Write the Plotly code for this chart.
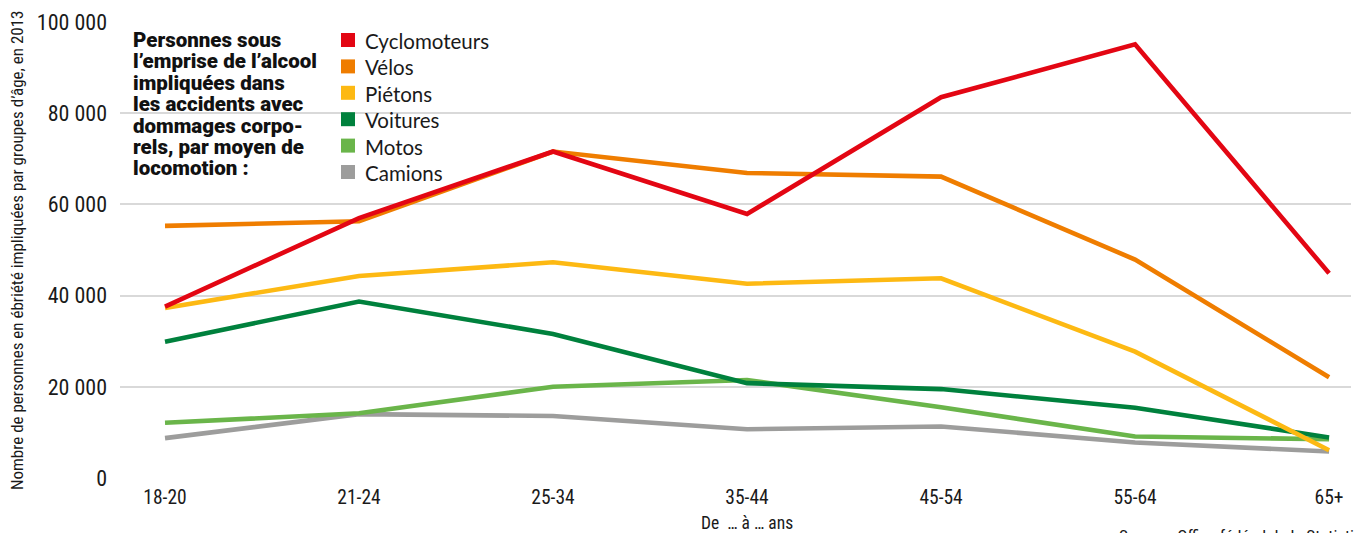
import plotly.graph_objects as go

# Age groups (x categories)
age_groups = ["18-20", "21-24", "25-34", "35-44", "45-54", "55-64", "65+"]

# Persons under the influence of alcohol involved in injury accidents, 2013
cyclomoteurs = [37600, 57000, 71600, 57900, 83500, 95100, 44900]
velos = [55300, 56300, 71600, 66900, 66100, 47900, 22100]
pietons = [37300, 44300, 47300, 42600, 43800, 27700, 6100]
voitures = [29900, 38700, 31600, 20800, 19500, 15400, 8900]
motos = [12100, 14200, 20000, 21500, 15500, 9100, 8500]
camions = [8750, 14000, 13600, 10700, 11300, 7800, 5800]

series_names = ["Cyclomoteurs", "Vélos", "Piétons", "Voitures", "Motos", "Camions"]
series_values = [cyclomoteurs, velos, pietons, voitures, motos, camions]
series_colors = ["#E30613", "#EF7D00", "#FDB913", "#00813D", "#6AB54A", "#9D9D9C"]

y_ticks = [0, 20000, 40000, 60000, 80000, 100000]
y_tick_labels = ["0", "20 000", "40 000", "60 000", "80 000", "100 000"]

title_lines = ["Personnes sous", "l’emprise de l’alcool", "impliquées dans",
               "les accidents avec", "dommages corpo-", "rels, par moyen de",
               "locomotion :"]

COND = "Roboto Condensed, DejaVu Sans Condensed, sans-serif"
TEXT = "Lato, Noto Sans, sans-serif"
HEAVY = "Roboto, Noto Sans, sans-serif"
INK = "#1a1a1a"

W, H = 1362, 533
L, R, T, B = 120, 11, 22, 55
PW, PH = W - L - R, H - T - B


def px(x):
    return (x - L) / PW


def py(y):
    return (H - B - y) / PH


fig = go.Figure()

# draw from the bottom of the list upward so the red line ends on top
for name, vals, col in reversed(list(zip(series_names, series_values, series_colors))):
    fig.add_trace(go.Scatter(
        x=age_groups, y=vals, name=name, mode="lines",
        line=dict(color=col, width=4.6), showlegend=False,
    ))

# Legend: coloured squares with labels
leg_x0, leg_y0, leg_dy = 341, 40, 26.4
for i, (name, col) in enumerate(zip(series_names, series_colors)):
    cy = leg_y0 + i * leg_dy
    fig.add_shape(type="rect", xref="paper", yref="paper",
                  x0=px(leg_x0), x1=px(leg_x0 + 14),
                  y0=py(cy + 7), y1=py(cy - 7),
                  fillcolor=col, line=dict(width=0), layer="above")
    fig.add_annotation(xref="paper", yref="paper", x=px(363), y=py(cy + 1),
                       xanchor="left", yanchor="middle", showarrow=False,
                       text=name, font=dict(family=TEXT, size=20.5, color=INK))

# Title block, one line at a time for tight leading
for i, line in enumerate(title_lines):
    fig.add_annotation(xref="paper", yref="paper", x=px(131), y=py(40 + i * 21.4),
                       xanchor="left", yanchor="middle", showarrow=False,
                       text=line, font=dict(family=HEAVY, size=20.5, weight=900, color="#111111"))

# Y axis title
fig.add_annotation(xref="paper", yref="paper", x=px(17), y=py(251),
                   xanchor="center", yanchor="middle", textangle=-90, showarrow=False,
                   text="Nombre de personnes en ébriété impliquées par groupes d’âge, en 2013",
                   font=dict(family=COND, size=17, color=INK))

# X axis title
fig.add_annotation(xref="x", yref="paper", x=3, y=py(523),
                   xanchor="center", yanchor="middle", showarrow=False,
                   text="De  … à … ans",
                   font=dict(family=COND, size=17.5, color=INK))

# Source line
fig.add_annotation(xref="paper", yref="paper", x=px(1117), y=py(524),
                   xanchor="left", yanchor="top", showarrow=False,
                   text="Source : Office fédéral de la Statistique",
                   font=dict(family=COND, size=17, color=INK))

fig.update_layout(
    width=W, height=H,
    margin=dict(l=L, r=R, t=T, b=B),
    paper_bgcolor="white", plot_bgcolor="white",
    xaxis=dict(type="category", range=[-0.232, 6.113],
               showgrid=False, showline=False, zeroline=False,
               ticks="", ticklabelstandoff=5,
               tickfont=dict(family=COND, size=19.5, color=INK)),
    yaxis=dict(range=[0, 100000], tickvals=y_ticks, ticktext=y_tick_labels,
               showgrid=True, gridcolor="#d9d9d9", gridwidth=2,
               zeroline=False, showline=False, ticks="",
               ticklabelstandoff=12,
               tickfont=dict(family=COND, size=22, color=INK)),
)

fig.write_html("out.html")
